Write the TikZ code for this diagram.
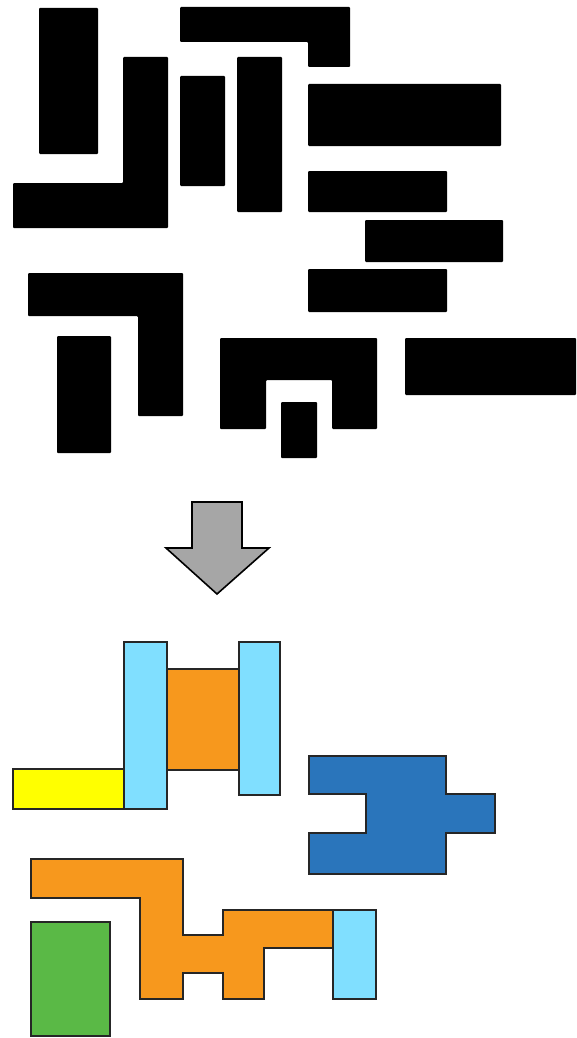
\documentclass[tikz,border=0pt]{standalone}
\usepackage{xcolor}
\definecolor{pieceCyan}{RGB}{128,223,255}
\definecolor{pieceOrange}{RGB}{247,152,29}
\definecolor{pieceYellow}{RGB}{255,255,0}
\definecolor{pieceBlue}{RGB}{42,117,187}
\definecolor{pieceGreen}{RGB}{90,185,70}
\definecolor{arrowGray}{RGB}{166,166,166}
\usepackage{tikz}
\tikzset{
  blk/.style={fill=black, rounded corners=1pt},
  piece/.style={fill=#1, draw=black!85, line width=1.8pt},
  bigarrow/.style={fill=arrowGray, draw=black, line width=1.6pt},
}

\begin{document}
\begin{tikzpicture}[x=1pt,y=-1pt]
  \useasboundingbox (0,0) rectangle (576,1038);
  % scattered black pieces
  \fill[blk] (39,8) rectangle (98,154);
  \fill[blk] (123,57)--(168,57)--(168,228)--(13,228)--(13,183)--(123,183)--cycle;
  \fill[blk] (180,76) rectangle (225,186);
  \fill[blk] (237,57) rectangle (282,212);
  \fill[blk] (180,7)--(350,7)--(350,67)--(308,67)--(308,42)--(180,42)--cycle;
  \fill[blk] (308,84) rectangle (501,146);
  \fill[blk] (308,171) rectangle (447,212);
  \fill[blk] (365,220) rectangle (503,262);
  \fill[blk] (308,269) rectangle (447,312);
  \fill[blk] (28,273)--(183,273)--(183,416)--(138,416)--(138,316)--(28,316)--cycle;
  \fill[blk] (57,336) rectangle (111,453);
  \fill[blk] (220,338)--(377,338)--(377,429)--(332,429)--(332,380)--(266,380)--(266,429)--(220,429)--cycle;
  \fill[blk] (281,402) rectangle (317,458);
  \fill[blk] (405,338) rectangle (576,395);
  % arrow
  \draw[bigarrow] (192,502)--(242,502)--(242,548)--(269,548)--(217,594)--(166,548)--(192,548)--cycle;
  % assembled pieces
  \draw[piece=pieceYellow] (13,769) rectangle (124,809);
  \draw[piece=pieceOrange] (167,669) rectangle (239,770);
  \draw[piece=pieceCyan] (124,642) rectangle (167,809);
  \draw[piece=pieceCyan] (239,642) rectangle (280,795);
  \draw[piece=pieceBlue] (309,756)--(446,756)--(446,794)--(495,794)--(495,833)--(446,833)--(446,874)--(309,874)--(309,833)--(366,833)--(366,794)--(309,794)--cycle;
  \draw[piece=pieceOrange] (31,859)--(183,859)--(183,935)--(223,935)--(223,910)--(333,910)--(333,948)--(264,948)--(264,999)--(223,999)--(223,973)--(183,973)--(183,999)--(140,999)--(140,898)--(31,898)--cycle;
  \draw[piece=pieceCyan] (333,910) rectangle (376,999);
  \draw[piece=pieceGreen] (31,922) rectangle (110,1036);
\end{tikzpicture}
\end{document}
